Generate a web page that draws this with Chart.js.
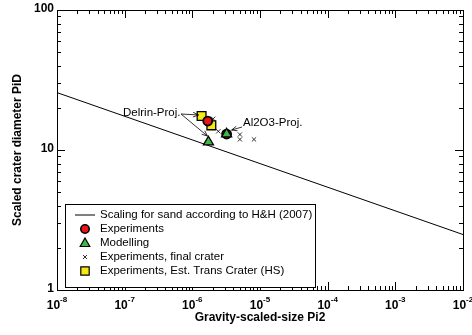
<!DOCTYPE html>
<html>
<head>
<meta charset="utf-8">
<script src="https://cdn.jsdelivr.net/npm/chart.js@4/dist/chart.umd.min.js"></script>
<style>
  html, body { margin: 0; padding: 0; background: #fff; }
  #wrap { width: 472px; height: 335px; position: relative; }
</style>
</head>
<body>
<div id="wrap"><canvas id="craterChart"></canvas></div>
<script>
// Scaled crater diameter vs gravity-scaled size (log-log)

// H&H (2007) sand scaling line, read at the two ends of the x axis
const hhPi2 = [1e-8, 1e-2];
const hhPiD = [25.7, 2.49];

// Experiments (Delrin, Al2O3)
const expPi2 = [1.69e-6, 3.21e-6];
const expPiD = [16.1, 13.0];

// Modelling
const modPi2 = [1.73e-6, 3.21e-6];
const modPiD = [11.4, 13.0];

// Experiments, final crater
const finalPi2 = [2.03e-6, 2.42e-6, 5.05e-6, 5.05e-6, 8.15e-6];
const finalPiD = [16.7, 13.6, 12.9, 11.9, 11.9];

// Experiments, estimated transient crater (HS)
const transPi2 = [1.37e-6, 1.91e-6];
const transPiD = [17.5, 15.0];

// Decade tick values
const xDecades = [-8, -7, -6, -5, -4, -3, -2];
const yDecades = [1, 10, 100];

const legendItems = [
  'Scaling for sand according to H&H (2007)',
  'Experiments',
  'Modelling',
  'Experiments, final crater',
  'Experiments, Est. Trans Crater (HS)'
];

const FONT = '"Liberation Sans", Arial, Helvetica, sans-serif';

function pts(xs, ys) {
  return xs.map((x, i) => ({ x: x, y: ys[i] }));
}

function drawSymbol(ctx, kind, x, y) {
  ctx.save();
  ctx.lineWidth = 1.2;
  ctx.strokeStyle = '#000';
  if (kind === 'line') {
    ctx.lineWidth = 1;
    ctx.beginPath();
    ctx.moveTo(x - 10, y);
    ctx.lineTo(x + 10, y);
    ctx.stroke();
  } else if (kind === 'circle') {
    ctx.fillStyle = '#e8161b';
    ctx.lineWidth = 1.6;
    ctx.beginPath();
    ctx.arc(x, y, 4.2, 0, Math.PI * 2);
    ctx.fill();
    ctx.stroke();
  } else if (kind === 'triangle') {
    ctx.fillStyle = '#3fb54a';
    ctx.beginPath();
    ctx.moveTo(x, y - 5);
    ctx.lineTo(x + 4.8, y + 3.5);
    ctx.lineTo(x - 4.8, y + 3.5);
    ctx.closePath();
    ctx.fill();
    ctx.stroke();
  } else if (kind === 'cross') {
    ctx.lineWidth = 0.8;
    ctx.beginPath();
    ctx.moveTo(x - 2, y - 2); ctx.lineTo(x + 2, y + 2);
    ctx.moveTo(x + 2, y - 2); ctx.lineTo(x - 2, y + 2);
    ctx.stroke();
  } else if (kind === 'square') {
    ctx.fillStyle = '#f5ea14';
    ctx.beginPath();
    ctx.rect(x - 4.2, y - 4.2, 8.4, 8.4);
    ctx.fill();
    ctx.stroke();
  }
  ctx.restore();
}

function drawPow(ctx, exp, x, y, align) {
  // "10" with raised exponent
  ctx.font = 'bold 12px ' + FONT;
  const base = '10';
  const bw = ctx.measureText(base).width;
  ctx.font = 'bold 8px ' + FONT;
  const ew = ctx.measureText(String(exp)).width;
  let x0 = x - (bw + ew) / 2;
  if (align === 'right') x0 = x - bw - ew;
  ctx.textAlign = 'left';
  ctx.textBaseline = 'alphabetic';
  ctx.font = 'bold 12px ' + FONT;
  ctx.fillText(base, x0, y);
  ctx.font = 'bold 8px ' + FONT;
  ctx.fillText(String(exp), x0 + bw, y - 7);
}

function arrow(ctx, x1, y1, x2, y2) {
  ctx.beginPath();
  ctx.moveTo(x1, y1);
  ctx.lineTo(x2, y2);
  ctx.stroke();
  const a = Math.atan2(y2 - y1, x2 - x1);
  const h = 6, w = 0.4;
  ctx.beginPath();
  ctx.moveTo(x2 - h * Math.cos(a - w), y2 - h * Math.sin(a - w));
  ctx.lineTo(x2, y2);
  ctx.lineTo(x2 - h * Math.cos(a + w), y2 - h * Math.sin(a + w));
  ctx.stroke();
}

const framePlugin = {
  id: 'frame',
  afterDraw(chart) {
    const ctx = chart.ctx;
    const a = chart.chartArea;
    const xs = chart.scales.x;
    const ys = chart.scales.y;
    ctx.save();
    ctx.strokeStyle = '#000';
    ctx.fillStyle = '#000';
    ctx.lineWidth = 1;

    // frame
    ctx.strokeRect(a.left + 0.5, a.top + 0.5, a.right - a.left, a.bottom - a.top);

    // inward ticks on all four sides
    ctx.beginPath();
    for (let d = -8; d <= -2; d++) {
      for (let m = 1; m <= 9; m++) {
        if (d === -2 && m > 1) break;
        const px = Math.round(xs.getPixelForValue(m * Math.pow(10, d))) + 0.5;
        const len = m === 1 ? 8 : 4;
        ctx.moveTo(px, a.bottom);
        ctx.lineTo(px, a.bottom - len);
        ctx.moveTo(px, a.top);
        ctx.lineTo(px, a.top + len);
      }
    }
    for (let d = 0; d <= 2; d++) {
      for (let m = 1; m <= 9; m++) {
        if (d === 2 && m > 1) break;
        const py = Math.round(ys.getPixelForValue(m * Math.pow(10, d))) + 0.5;
        const len = m === 1 ? 8 : 4;
        ctx.moveTo(a.left, py);
        ctx.lineTo(a.left + len, py);
        ctx.moveTo(a.right, py);
        ctx.lineTo(a.right - len, py);
      }
    }
    ctx.stroke();

    // x tick labels
    xDecades.forEach(d => {
      drawPow(ctx, d, xs.getPixelForValue(Math.pow(10, d)), a.bottom + 19, 'center');
    });
    // y tick labels
    ctx.font = 'bold 12px ' + FONT;
    ctx.textAlign = 'right';
    ctx.textBaseline = 'middle';
    yDecades.forEach(v => {
      ctx.fillText(String(v), a.left - 3, ys.getPixelForValue(v) - 1);
    });

    // axis titles
    ctx.font = 'bold 12px ' + FONT;
    ctx.textAlign = 'center';
    ctx.textBaseline = 'middle';
    ctx.fillText('Gravity-scaled-size Pi2', (a.left + a.right) / 2, a.bottom + 28);
    ctx.save();
    ctx.translate(18, (a.top + a.bottom) / 2);
    ctx.rotate(-Math.PI / 2);
    ctx.fillText('Scaled crater diameter PiD', 0, 0);
    ctx.restore();

    // annotations
    ctx.font = '11.5px ' + FONT;
    ctx.textAlign = 'left';
    ctx.textBaseline = 'middle';
    ctx.fillText('Delrin-Proj.', 123, 113);
    ctx.fillText('Al2O3-Proj.', 243, 123);
    ctx.lineWidth = 0.8;
    const sq = { x: xs.getPixelForValue(transPi2[0]), y: ys.getPixelForValue(transPiD[0]) };
    const tri = { x: xs.getPixelForValue(modPi2[0]), y: ys.getPixelForValue(modPiD[0]) };
    const al = { x: xs.getPixelForValue(expPi2[1]), y: ys.getPixelForValue(expPiD[1]) };
    arrow(ctx, 181, 114, sq.x - 3, sq.y - 1);
    arrow(ctx, 181, 114, tri.x - 1, tri.y - 6);
    arrow(ctx, 242, 127, al.x + 5, al.y - 4);

    // legend box
    ctx.fillStyle = '#fff';
    ctx.fillRect(65, 204, 250, 83);
    ctx.strokeStyle = '#000';
    ctx.lineWidth = 1;
    ctx.strokeRect(65.5, 204.5, 250, 83);
    const kinds = ['line', 'circle', 'triangle', 'cross', 'square'];
    ctx.fillStyle = '#000';
    ctx.font = '11.5px ' + FONT;
    ctx.textAlign = 'left';
    ctx.textBaseline = 'middle';
    legendItems.forEach((t, i) => {
      const y = 215 + i * 14;
      drawSymbol(ctx, kinds[i], 85, y);
      ctx.fillStyle = '#000';
      ctx.fillText(t, 100, y);
    });
    ctx.restore();
  }
};

new Chart(document.getElementById('craterChart').getContext('2d'), {
  type: 'scatter',
  data: {
    datasets: [
      {
        label: 'Scaling for sand according to H&H (2007)',
        data: pts(hhPi2, hhPiD),
        showLine: true,
        borderColor: '#000',
        borderWidth: 1,
        pointRadius: 0,
        order: 5
      },
      {
        label: 'Experiments, final crater',
        data: pts(finalPi2, finalPiD),
        pointStyle: 'crossRot',
        pointRadius: 3,
        borderColor: '#000',
        borderWidth: 0.8,
        order: 4
      },
      {
        label: 'Experiments',
        data: pts(expPi2, expPiD),
        pointStyle: 'circle',
        pointRadius: 4.5,
        backgroundColor: '#e8161b',
        borderColor: '#000',
        borderWidth: 1.8,
        order: 2
      },
      {
        label: 'Experiments, Est. Trans Crater (HS)',
        data: pts(transPi2, transPiD),
        pointStyle: 'rect',
        pointRadius: 6.2,
        backgroundColor: '#f5ea14',
        borderColor: '#000',
        borderWidth: 1.3,
        order: 3
      },
      {
        label: 'Modelling',
        data: pts(modPi2, modPiD),
        pointStyle: 'triangle',
        pointRadius: 5.8,
        backgroundColor: '#3fb54a',
        borderColor: '#000',
        borderWidth: 1.3,
        order: 1
      }
    ]
  },
  options: {
    responsive: true,
    maintainAspectRatio: false,
    animation: false,
    layout: { padding: { left: 49, right: 9, top: 10, bottom: 37 } },
    plugins: {
      legend: { display: false },
      tooltip: { enabled: false }
    },
    scales: {
      x: {
        type: 'logarithmic',
        min: 1e-8,
        max: 1e-2,
        grid: { display: false },
        border: { display: false },
        ticks: { display: false }
      },
      y: {
        type: 'logarithmic',
        min: 1,
        max: 100,
        grid: { display: false },
        border: { display: false },
        ticks: { display: false }
      }
    }
  },
  plugins: [framePlugin]
});
</script>
</body>
</html>
